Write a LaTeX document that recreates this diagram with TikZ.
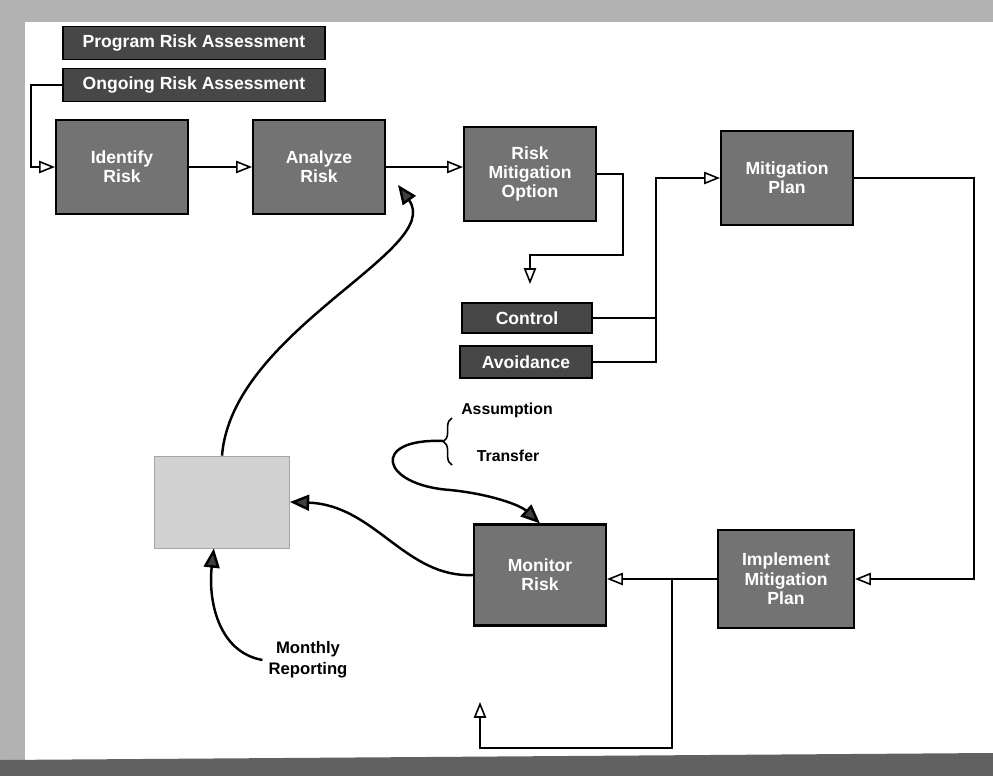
\documentclass[tikz,border=0pt]{standalone}
\usepackage{fontspec}
\setmainfont{Liberation Sans}
\usetikzlibrary{arrows.meta,decorations.pathreplacing}

\begin{document}
\begin{tikzpicture}[x=0.02cm, y=-0.02cm]
\tikzstyle{every node}=[font=\bfseries\fontsize{10}{11}\selectfont, align=center];
\tikzstyle{riskbox}=[draw, line width=1.2pt, fill=black!55, text=white, minimum width=2.64cm, minimum height=1.88cm, inner sep=2pt];
\tikzstyle{tagbox}=[draw, line width=1pt, fill=black!72, text=white, minimum height=0.66cm, inner sep=2pt];
\tikzstyle{link}=[line width=0.9pt, -{Triangle[open, length=9pt, width=7pt]}];
\tikzstyle{plain}=[line width=0.9pt];
\tikzstyle{swoop}=[line width=1.4pt, -{Triangle[length=11pt, width=9pt, fill=black!75]}];
\useasboundingbox (0,0) rectangle (993,776);
\fill[black!30] (0,0) rectangle (993,22);
\fill[black!30] (0,0) rectangle (25,776);
\fill[black!62] (0,760) -- (993,753) -- (993,776) -- (0,776) -- cycle;
\node[tagbox, minimum width=5.24cm] (prog) at (194, 43) {Program Risk Assessment};
\node[tagbox, minimum width=5.24cm] (ongo) at (194, 85) {Ongoing Risk Assessment};
\node[riskbox] (ident) at (122, 167) {Identify\\Risk};
\node[riskbox] (analyze) at (319, 167) {Analyze\\Risk};
\node[riskbox] (option) at (530, 174) {Risk\\Mitigation\\Option};
\node[riskbox] (mplan) at (787, 178) {Mitigation\\Plan};
\node[tagbox, minimum width=2.6cm, minimum height=0.6cm] (control) at (527, 318) {Control};
\node[tagbox, minimum width=2.64cm, minimum height=0.64cm] (avoid) at (526, 362) {Avoidance};
\node[riskbox, minimum height=2.02cm] (monitor) at (540, 575) {Monitor\\Risk};
\node[riskbox, minimum width=2.72cm, minimum height=1.96cm] (implement) at (786, 579) {Implement\\Mitigation\\Plan};
\node[draw=black!35, fill=black!18, minimum width=2.7cm, minimum height=1.84cm] (report) at (222, 502) {};
\node[font=\bfseries\fontsize{9}{11}\selectfont] (assume) at (507, 410) {Assumption};
\node[font=\bfseries\fontsize{9}{11}\selectfont] (transfer) at (508, 456) {Transfer};
\node[font=\bfseries\fontsize{9.5}{12}\selectfont] (monthly) at (308, 660) {Monthly\\Reporting};
\coordinate (optdown) at (530, 284);
\coordinate (bend) at (656, 362);
\coordinate (split) at (672, 578);
\coordinate (repend) at (480, 702);
\coordinate (brace) at (443, 441);
\draw[line width=0.9pt, decorate, decoration={brace, amplitude=5pt}] (452, 465) -- (452, 418);
\draw[link] (ongo.west) -- ++(-31,0) |- (ident.west);
\draw[link] (ident.east) -- (analyze.west);
\draw[link] (analyze.east) -- (analyze.east -| option.west);
\draw[link] (option.east) -| (623, 255) -| (optdown);
\draw[plain] (control.east) -- (control.east -| bend);
\draw[link] (avoid.east) -- (bend) |- (mplan.west);
\draw[link] (mplan.east) -- ++(120,0) |- (implement.east);
\draw[link] (implement.west) -- (implement.west -| monitor.east);
\draw[link] (split) -- (672, 748) -| (repend);
\draw[swoop] (monitor.west) .. controls (405, 578) and (375, 505) .. (report.east);
\draw[swoop] (report.north) .. controls (232, 330) and (445, 250) .. ([xshift=0.24cm]analyze.-15);
\draw[swoop] (monthly.west) .. controls (218, 652) and (208, 600) .. (report.260);
\draw[swoop] (brace) .. controls (370, 438) and (380, 485) .. (450, 490) .. controls (490, 494) and (520, 505) .. (monitor.north);
\end{tikzpicture}
\end{document}
